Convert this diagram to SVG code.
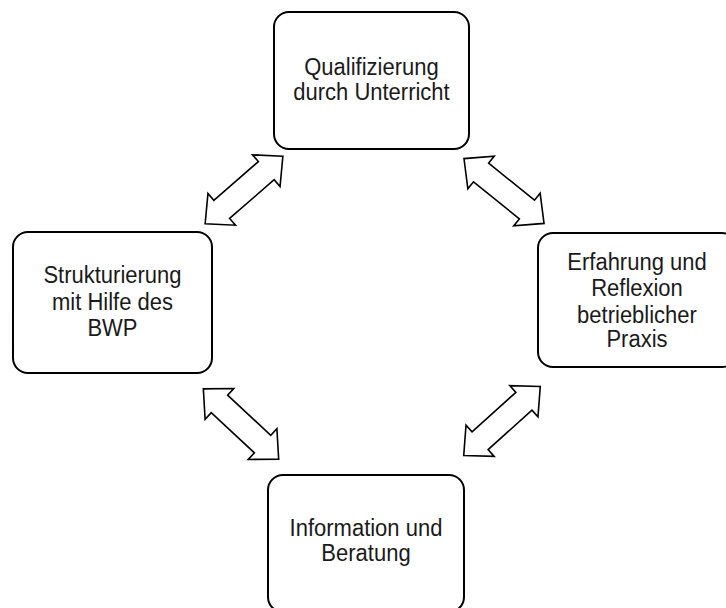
<svg xmlns="http://www.w3.org/2000/svg" width="726" height="608" viewBox="0 0 726 608">
<style>
.box{fill:#fff;stroke:#000;stroke-width:2}
.lbl{font-family:"Liberation Sans",Arial,sans-serif;font-size:22px;fill:#1a1a1a;text-anchor:middle}
.arr{fill:#fff;stroke:#000;stroke-width:1.6;stroke-linejoin:miter}
</style>
<defs>
<path id="dbl" d="M51.5,0 L29.5,-21 L29.5,-12 L-29.5,-12 L-29.5,-21 L-51.5,0 L-29.5,21 L-29.5,12 L29.5,12 L29.5,21 Z"/>
</defs>
<rect width="726" height="608" fill="#fff"/>
<g id="connectors">
<use href="#dbl" class="arr" transform="translate(244,190) rotate(-41)"/>
<use href="#dbl" class="arr" transform="translate(504,191) rotate(39)"/>
<use href="#dbl" class="arr" transform="translate(241,424) rotate(43)"/>
<use href="#dbl" class="arr" transform="translate(502,421) rotate(-42)"/>
</g>
<g id="node-qualifizierung">
<rect class="box" x="274" y="12" width="195" height="137" rx="15"/>
<g transform="matrix(1,0,0,1.06,0,-5.25)">
<text class="lbl" x="371.5" y="76">Qualifizierung</text>
<text class="lbl" x="371.5" y="99">durch Unterricht</text>
</g>
</g>
<g id="node-strukturierung">
<rect class="box" x="13" y="232" width="199" height="141" rx="15"/>
<g transform="matrix(1,0,0,1.06,0,-18.6)">
<text class="lbl" x="112.5" y="285">Strukturierung</text>
<text class="lbl" x="112.5" y="310">mit Hilfe des</text>
<text class="lbl" x="112.5" y="335">BWP</text>
</g>
</g>
<g id="node-erfahrung">
<rect class="box" x="538" y="233" width="199" height="134" rx="15"/>
<g transform="matrix(1,0,0,1.06,0,-18.5)">
<text class="lbl" x="637" y="272">Erfahrung und</text>
<text class="lbl" x="637" y="297">Reflexion</text>
<text class="lbl" x="637" y="322">betrieblicher</text>
<text class="lbl" x="637" y="345">Praxis</text>
</g>
</g>
<g id="node-information">
<rect class="box" x="268" y="475" width="196" height="137" rx="15"/>
<g transform="matrix(1,0,0,1.06,0,-32.9)">
<text class="lbl" x="366" y="537">Information und</text>
<text class="lbl" x="366" y="560">Beratung</text>
</g>
</g>
</svg>
